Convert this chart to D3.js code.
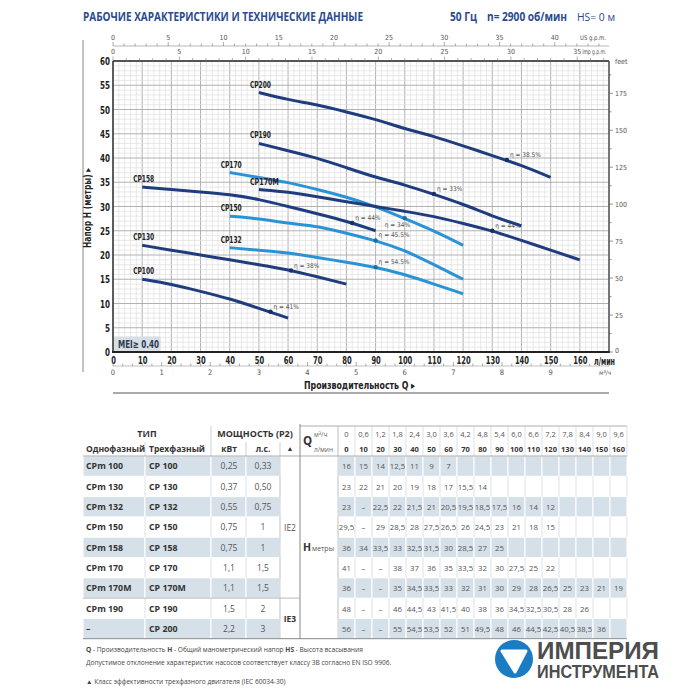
<!DOCTYPE html>
<html><head><meta charset="utf-8">
<script src="https://cdn.jsdelivr.net/npm/d3@7"></script>
<style>body{margin:0;background:#fff}svg{display:block}</style>
</head><body><svg id="c" width="700" height="700"></svg>
<script>
// ---------- DATA ----------
const qLpm = [0,10,20,30,40,50,60,70,80,90,100,110,120,130,140,150,160];
const qM3h = ["0","0,6","1,2","1,8","2,4","3,0","3,6","4,2","4,8","5,4","6,0","6,6","7,2","7,8","8,4","9,0","9,6"];
const curveNames = ["CP100","CP130","CP132","CP150","CP158","CP170","CP170M","CP190","CP200"];
const type1 = ["CPm 100","CPm 130","CPm 132","CPm 150","CPm 158","CPm 170","CPm 170M","CPm 190","–"];
const type3 = ["CP 100","CP 130","CP 132","CP 150","CP 158","CP 170","CP 170M","CP 190","CP 200"];
const powerKw = ["0,25","0,37","0,55","0,75","0,75","1,1","1,1","1,5","2,2"];
const powerHp = ["0,33","0,50","0,75","1","1","1,5","1,5","2","3"];
// null = "–" in the table; arrays end where the table cell is blank
const headCP100  = [16,15,14,12.5,11,9,7];
const headCP130  = [23,22,21,20,19,18,17,15.5,14];
const headCP132  = [23,null,22.5,22,21.5,21,20.5,19.5,18.5,17.5,16,14,12];
const headCP150  = [29.5,null,29,28.5,28,27.5,26.5,26,24.5,23,21,18,15];
const headCP158  = [36,34,33.5,33,32.5,31.5,30,28.5,27,25];
const headCP170  = [41,null,null,38,37,36,35,33.5,32,30,27.5,25,22];
const headCP170M = [36,null,null,35,34.5,33.5,33,32,31,30,29,28,26.5,25,23,21,19];
const headCP190  = [48,null,null,46,44.5,43,41.5,40,38,36,34.5,32.5,30.5,28,26];
const headCP200  = [56,null,null,55,54.5,53.5,52,51,49.5,48,46,44.5,42.5,40.5,38.5,36];
const heads = [headCP100,headCP130,headCP132,headCP150,headCP158,headCP170,headCP170M,headCP190,headCP200];
const curveStart = [10,10,40,40,10,40,50,50,50];       // first flow drawn on the chart
const curveTone  = ["dark","dark","light","light","dark","light","dark","dark","dark"];
const effQ = [54,61,90,90,82,100,130,110,135];
const effH = [8.3,16.8,17.5,23,26.6,27.6,25,32.6,39.6];
const effLabel = ["η = 41%","η = 38%","η = 54.5%","η = 45.5%","η = 44%","η = 34%","η = 44%","η = 33%","η = 38.5%"];
const yTicks = [0,5,10,15,20,25,30,35,40,45,50,55,60];
const xTicks = [0,10,20,30,40,50,60,70,80,90,100,110,120,130,140,150,160];
const usTicks = [0,5,10,15,20,25,30,35,40];
const impTicks = [0,5,10,15,20,25,30,35];
const m3Ticks = [0,1,2,3,4,5,6,7,8,9];
const feetTicks = [0,25,50,75,100,125,150,175];

// ---------- SETUP ----------
const svg = d3.select("#c");
const NAR = "'Liberation Sans Narrow','DejaVu Sans Condensed','Liberation Sans',sans-serif";
const OS = "'Open Sans','Noto Sans',sans-serif";
const NAVY = "#2a4a8c";
const DARK = "#1f3d7e", LIGHT = "#2a93d5";

const x = d3.scaleLinear().domain([0,170]).range([113,609]);
const y = d3.scaleLinear().domain([0,60]).range([352,61]);
const xUS = d3.scaleLinear().domain([0,170/3.7854]).range([113,609]);
const xImp = d3.scaleLinear().domain([0,170/4.5461]).range([113,609]);
const xM3 = d3.scaleLinear().domain([0,170*0.06]).range([113,609]);
const yFt = d3.scaleLinear().domain([0,60*3.28084]).range([352,61]);

// ---------- TITLE ----------
svg.append("text").attr("x",83).attr("y",21).attr("font-family",OS).attr("font-weight",700)
  .attr("font-size",12).attr("fill",NAVY).attr("textLength",280).attr("lengthAdjust","spacingAndGlyphs")
  .text("РАБОЧИЕ ХАРАКТЕРИСТИКИ И ТЕХНИЧЕСКИЕ ДАННЫЕ");
svg.append("text").attr("x",450).attr("y",21).attr("font-family",OS).attr("font-weight",700)
  .attr("font-size",11.5).attr("fill",NAVY).attr("textLength",27).attr("lengthAdjust","spacingAndGlyphs")
  .text("50 Гц");
svg.append("text").attr("x",487).attr("y",21).attr("font-family",OS).attr("font-weight",700)
  .attr("font-size",11.5).attr("fill",NAVY).attr("textLength",80).attr("lengthAdjust","spacingAndGlyphs")
  .text("n= 2900 об/мин");
svg.append("text").attr("x",577).attr("y",21).attr("font-family",OS)
  .attr("font-size",11.5).attr("fill",NAVY).attr("textLength",38).attr("lengthAdjust","spacingAndGlyphs")
  .text("HS= 0 м");

// ---------- GRID ----------
const g = svg.append("g");
d3.range(0,171,2).forEach(q=>{
  g.append("line").attr("x1",x(q)).attr("x2",x(q)).attr("y1",y(0)).attr("y2",y(60))
   .attr("stroke", q%10===0 ? "#a9a9a9" : "#e0e0e0").attr("stroke-width", q%10===0?0.9:0.7);
});
d3.range(0,61,1).forEach(h=>{
  g.append("line").attr("x1",x(0)).attr("x2",x(170)).attr("y1",y(h)).attr("y2",y(h))
   .attr("stroke", h%5===0 ? "#a9a9a9" : "#e0e0e0").attr("stroke-width", h%5===0?0.9:0.7);
});

// outer left rule
svg.append("line").attr("x1",83).attr("x2",83).attr("y1",40).attr("y2",372).attr("stroke","#888").attr("stroke-width",1);

// frame
svg.append("line").attr("x1",x(0)).attr("x2",x(170)).attr("y1",y(60)).attr("y2",y(60)).attr("stroke","#555").attr("stroke-width",2);
svg.append("line").attr("x1",x(170)).attr("x2",x(170)).attr("y1",y(60)).attr("y2",y(0)).attr("stroke","#555").attr("stroke-width",1.5);
svg.append("line").attr("x1",x(0)).attr("x2",x(0)).attr("y1",y(60)).attr("y2",y(0)).attr("stroke","#333").attr("stroke-width",1.5);
svg.append("line").attr("x1",x(0)-1).attr("x2",x(170)+1).attr("y1",y(0)).attr("y2",y(0)).attr("stroke","#222").attr("stroke-width",2);

// ---------- AXES ----------
const ax = svg.append("g").attr("transform",`translate(${x(0)},0)`)
  .call(d3.axisLeft(y).tickValues(yTicks).tickSize(0).tickPadding(3));
ax.select(".domain").remove();
ax.selectAll("text").attr("font-family",NAR).attr("font-weight",700).attr("font-size",11).attr("fill","#222")
  .attr("textLength",d=>String(d).length*5).attr("lengthAdjust","spacingAndGlyphs");

const bx = svg.append("g").attr("transform",`translate(0,${y(0)})`)
  .call(d3.axisBottom(x).tickValues(xTicks).tickSize(0).tickPadding(5));
bx.select(".domain").remove();
bx.selectAll("text").attr("font-family",NAR).attr("font-weight",700).attr("font-size",10.5).attr("fill","#222")
  .attr("textLength",d=>String(d).length*4.7).attr("lengthAdjust","spacingAndGlyphs");
svg.append("text").attr("x",594).attr("y",365).attr("font-family",NAR).attr("font-weight",700)
  .attr("font-size",10).attr("fill","#222").attr("textLength",21).attr("lengthAdjust","spacingAndGlyphs").text("л/мин");

// m3/h axis
const m3g = svg.append("g").attr("transform","translate(0,366)");
m3g.append("line").attr("x1",x(0)).attr("x2",x(170)).attr("stroke","#999").attr("stroke-width",0.6);
d3.range(0,10.21,0.2).forEach(v=>{
  const major = Math.abs(v-Math.round(v))<1e-6;
  m3g.append("line").attr("x1",xM3(v)).attr("x2",xM3(v)).attr("y1",0).attr("y2",major?-4:-2.5).attr("stroke","#777").attr("stroke-width",0.6);
});
m3Ticks.forEach(v=>{
  m3g.append("text").attr("x",xM3(v)).attr("y",9).attr("text-anchor","middle").attr("font-family",NAR)
    .attr("font-size",7.5).attr("fill","#555").text(v);
});
svg.append("text").attr("x",599).attr("y",375).attr("font-family",NAR).attr("font-size",6.5).attr("fill","#555").text("м³/ч");

svg.append("text").attr("x",304).attr("y",389).attr("font-family",NAR).attr("font-weight",700)
  .attr("font-size",11).attr("fill","#222").attr("textLength",111).attr("lengthAdjust","spacingAndGlyphs").text("Производительность Q ▸");
svg.append("line").attr("x1",x(0)).attr("x2",x(170)).attr("y1",393).attr("y2",393).attr("stroke","#555").attr("stroke-width",1);

// y title
svg.append("text").attr("transform","translate(91,208) rotate(-90)").attr("text-anchor","middle")
  .attr("font-family",NAR).attr("font-weight",700).attr("font-size",10).attr("fill","#222")
  .attr("textLength",80).attr("lengthAdjust","spacingAndGlyphs").text("Напор H (метры) ▸");

// US gpm axis
const usg = svg.append("g").attr("transform","translate(0,46)");
usg.append("line").attr("x1",x(0)).attr("x2",x(170)).attr("stroke","#888").attr("stroke-width",0.6);
d3.range(0,45,1).forEach(v=>{
  usg.append("line").attr("x1",xUS(v)).attr("x2",xUS(v)).attr("y1",0).attr("y2",v%5===0?-4:-2.5).attr("stroke","#777").attr("stroke-width",0.6);
});
usTicks.forEach(v=>usg.append("text").attr("x",xUS(v)).attr("y",-6).attr("text-anchor","middle")
  .attr("font-family",NAR).attr("font-size",7).attr("fill","#555").text(v));
usg.append("text").attr("x",580).attr("y",-6).attr("font-family",NAR).attr("font-size",6.5).attr("fill","#555")
  .attr("textLength",26).attr("lengthAdjust","spacingAndGlyphs").text("US g.p.m.");

// Imp gpm axis
const img = svg.append("g").attr("transform",`translate(0,${y(60)})`);
d3.range(0,37.5,1).forEach(v=>{
  img.append("line").attr("x1",xImp(v)).attr("x2",xImp(v)).attr("y1",0).attr("y2",v%5===0?-4.5:-3).attr("stroke","#777").attr("stroke-width",0.6);
});
impTicks.forEach(v=>img.append("text").attr("x",xImp(v)).attr("y",-7).attr("text-anchor","middle")
  .attr("font-family",NAR).attr("font-size",7).attr("fill","#555").text(v));
img.append("text").attr("x",xImp(35)+5).attr("y",-7).attr("font-family",NAR).attr("font-size",6.5).attr("fill","#555")
  .attr("textLength",24).attr("lengthAdjust","spacingAndGlyphs").text("Imp g.p.m.");

// feet axis
const fg = svg.append("g").attr("transform",`translate(${x(170)},0)`);
d3.range(0,196,12.5).forEach(v=>{
  fg.append("line").attr("x1",0).attr("x2",v%25===0?4:2.5).attr("y1",yFt(v)).attr("y2",yFt(v)).attr("stroke","#666").attr("stroke-width",0.7);
});
feetTicks.forEach(v=>fg.append("text").attr("x",6).attr("y",yFt(v)+(v===0?1:2.5)).attr("font-family",NAR)
  .attr("font-size",7).attr("fill","#555").text(v));
fg.append("text").attr("x",6).attr("y",y(60)+3).attr("font-family",NAR).attr("font-size",7).attr("fill","#555").text("feet");

// MEI box
svg.append("rect").attr("x",x(0)+1).attr("y",y(3.2)).attr("width",x(16)-x(0)).attr("height",y(0)-y(3.2)-1).attr("fill","#d9dee3");
svg.append("text").attr("x",x(0)+5).attr("y",y(0)-4.5).attr("font-family",NAR).attr("font-weight",700)
  .attr("font-size",10.5).attr("fill","#2b3a55").attr("textLength",41).attr("lengthAdjust","spacingAndGlyphs").text("MEI≥ 0.40");

// ---------- CURVES ----------
const line = d3.line().x(d=>x(d[0])).y(d=>y(d[1])).curve(d3.curveBasis);
const cg = svg.append("g");
heads.forEach((arr,i)=>{
  const pts = arr.map((h,j)=>[qLpm[j],h]).filter(p=>p[1]!==null && p[0]>=curveStart[i]);
  const col = curveTone[i]==="dark"?DARK:LIGHT;
  cg.append("path").attr("d",line(pts)).attr("fill","none").attr("stroke",col)
    .attr("stroke-width",3).attr("stroke-linecap","butt");
  cg.append("text").attr("x",x(pts[0][0])-9).attr("y",y(pts[0][1])-5)
    .attr("font-family",NAR).attr("font-weight",700).attr("font-size",9).attr("fill","#222")
    .attr("textLength",curveNames[i].length===6?29:21).attr("lengthAdjust","spacingAndGlyphs").text(curveNames[i]);
  cg.append("circle").attr("cx",x(effQ[i])).attr("cy",y(effH[i])).attr("r",2.2)
    .attr("fill", curveTone[i]==="dark"?"#173063":"#1b6fa8");
  const below = curveNames[i]==="CP170";
  cg.append("text").attr("x",x(effQ[i])+(below?-20:3)).attr("y",y(effH[i])+(below?9:-3))
    .attr("font-family",NAR).attr("font-size",6.5).attr("fill","#555").text(effLabel[i]);
});

// ---------- TABLE ----------
const T = svg.append("g");
const tTop = 426, h1 = 442, h2 = 456, rowH = 20.3;
const vx0 = 338, vw = 17;
const rowY = i => h2 + i*rowH;
const lastX = vx0 + vw*qLpm.length;

type3.forEach((t,i)=>{
  if(i%2!==0) return;
  const cells = [[83,145],[145,211],[211,246],[246,280]];
  qLpm.forEach((q,j)=>cells.push([vx0+j*vw, vx0+(j+1)*vw]));
  cells.forEach(c=>T.append("rect").attr("x",c[0]).attr("y",rowY(i)).attr("width",c[1]-c[0]).attr("height",rowH)
    .attr("fill","#d5e0e9").attr("stroke","#fff").attr("stroke-width",1));
});
type3.forEach((t,i)=>{
  if(i%2===0) return;
  [145,211,246,280].concat(qLpm.map((q,j)=>vx0+j*vw)).concat([lastX]).forEach(xx=>
    T.append("line").attr("x1",xx).attr("x2",xx).attr("y1",rowY(i)).attr("y2",rowY(i+1)).attr("stroke","#cfd7de").attr("stroke-width",0.7));
});
qLpm.forEach((q,j)=>T.append("line").attr("x1",vx0+j*vw).attr("x2",vx0+j*vw).attr("y1",tTop).attr("y2",h2).attr("stroke","#cfd7de").attr("stroke-width",0.7));
T.append("line").attr("x1",lastX).attr("x2",lastX).attr("y1",tTop).attr("y2",h2).attr("stroke","#cfd7de").attr("stroke-width",0.7);
[211,246,280].forEach(xx=>T.append("line").attr("x1",xx).attr("x2",xx).attr("y1",xx===211?tTop:h1).attr("y2",h2).attr("stroke","#bbb").attr("stroke-width",0.7));
T.append("line").attr("x1",145).attr("x2",145).attr("y1",h1).attr("y2",h2).attr("stroke","#ccc").attr("stroke-width",0.7);

T.append("line").attr("x1",300).attr("x2",lastX).attr("y1",tTop).attr("y2",tTop).attr("stroke","#999").attr("stroke-width",0.8);
T.append("line").attr("x1",300).attr("x2",300).attr("y1",tTop-2).attr("y2",rowY(9)).attr("stroke","#888").attr("stroke-width",1);
T.append("line").attr("x1",83).attr("x2",lastX).attr("y1",h2).attr("y2",h2).attr("stroke","#999").attr("stroke-width",0.8);
T.append("line").attr("x1",83).attr("x2",300).attr("y1",rowY(7)).attr("y2",rowY(7)).attr("stroke","#aaa").attr("stroke-width",0.8);
T.append("line").attr("x1",280).attr("x2",280).attr("y1",h2).attr("y2",rowY(9)).attr("stroke","#bbb").attr("stroke-width",0.7);
T.append("line").attr("x1",338).attr("x2",338).attr("y1",tTop).attr("y2",rowY(9)).attr("stroke","#bbb").attr("stroke-width",0.7);
T.append("line").attr("x1",83).attr("x2",lastX).attr("y1",rowY(9)).attr("y2",rowY(9)).attr("stroke","#888").attr("stroke-width",1);

const txt = (xx,yy,s,o={})=>T.append("text").attr("x",xx).attr("y",yy).attr("font-family",OS)
  .attr("font-size",o.size||8).attr("font-weight",o.bold?700:400).attr("fill",o.fill||"#333")
  .attr("text-anchor",o.anchor||"start").text(s);
txt(147,437,"ТИП",{bold:1,size:9,anchor:"middle"});
txt(255,437,"МОЩНОСТЬ (P2)",{bold:1,size:9,anchor:"middle"});
txt(86,452,"Однофазный",{bold:1,size:8.5});
txt(149,452,"Трехфазный",{bold:1,size:8.5});
txt(229,452,"кВт",{bold:1,size:8.5,anchor:"middle"});
txt(263,452,"л.с.",{bold:1,size:8.5,anchor:"middle"});
txt(290,451,"▲",{size:7,anchor:"middle"});
txt(303,445,"Q",{bold:1,size:11.5});
txt(314,437,"м³/ч",{size:6.5,fill:"#666"});
txt(314,452,"л/мин",{size:6.5,fill:"#666"});
qM3h.forEach((s,j)=>txt(vx0+j*vw+vw/2,437,s,{size:7.5,fill:"#555",anchor:"middle"}));
qLpm.forEach((q,j)=>txt(vx0+j*vw+vw/2,452,q,{bold:1,size:7.5,fill:"#333",anchor:"middle"}));

type3.forEach((t,i)=>{
  const cy = rowY(i)+rowH/2+3.3;
  txt(86,cy,type1[i],{bold:1,size:8.8});
  txt(149,cy,t,{bold:1,size:8.8});
  txt(229,cy,powerKw[i],{size:8.5,fill:"#555",anchor:"middle"});
  txt(263,cy,powerHp[i],{size:8.5,fill:"#555",anchor:"middle"});
  heads[i].forEach((h,j)=>txt(vx0+j*vw+vw/2,cy,h===null?"–":String(h).replace(".",","),{size:7.8,fill:"#555",anchor:"middle"}));
});
txt(290,rowY(3.5)+3.5,"IE2",{size:8.5,fill:"#555",anchor:"middle"});
txt(290,rowY(8)+3.5,"IE3",{bold:1,size:8.5,anchor:"middle"});
txt(303,rowY(4.5)+4,"H",{bold:1,size:10.5});
txt(312,rowY(4.5)+3.5,"метры",{size:7,fill:"#555"});

// footer
const F = svg.append("g").attr("font-family",OS).attr("font-size",6.6).attr("fill","#444");
const f1 = F.append("text").attr("x",86).attr("y",652);
f1.append("tspan").attr("font-weight",700).text("Q");
f1.append("tspan").text(" - Производительность   ");
f1.append("tspan").attr("font-weight",700).text("H");
f1.append("tspan").text(" - Общий манометрический напор   ");
f1.append("tspan").attr("font-weight",700).text("HS");
f1.append("tspan").text(" - Высота всасывания");
F.append("text").attr("x",86).attr("y",665).text("Допустимое отклонение характеристик насосов соответствует классу 3В согласно EN ISO 9906.");
F.append("text").attr("x",86).attr("y",684).text("▲  Класс эффективности трехфазного двигателя (IEC 60034-30)");

// logo
svg.append("rect").attr("x",490).attr("y",rowY(9)+1).attr("width",210).attr("height",60).attr("fill","#fff");
const L = svg.append("g").attr("transform","translate(514,659)");
L.append("circle").attr("r",19).attr("fill","#1b7cc3");
L.append("path").attr("d","M-12,-8 L12,-8 L1,13 Z").attr("fill","#fff").attr("stroke","#fff").attr("stroke-width",3).attr("stroke-linejoin","round");
svg.append("text").attr("x",537).attr("y",659).attr("font-family","'Liberation Sans',sans-serif").attr("font-weight",700)
  .attr("font-size",24).attr("fill","#4d4d4f").attr("textLength",122).attr("lengthAdjust","spacingAndGlyphs").text("ИМПЕРИЯ");
svg.append("text").attr("x",537).attr("y",678).attr("font-family","'Liberation Sans',sans-serif").attr("font-weight",700)
  .attr("font-size",18).attr("fill","#4d4d4f").attr("textLength",122).attr("lengthAdjust","spacingAndGlyphs").text("ИНСТРУМЕНТА");
</script></body></html>
